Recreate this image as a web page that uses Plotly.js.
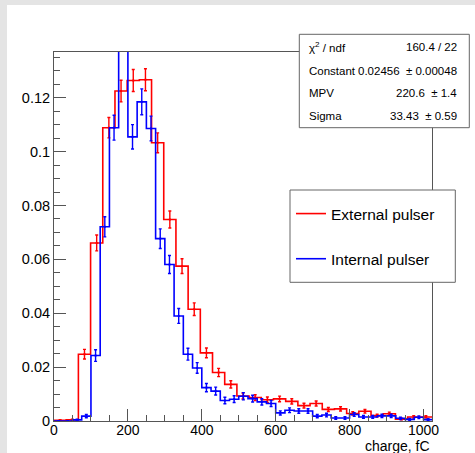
<!DOCTYPE html>
<html><head><meta charset="utf-8">
<script src="https://cdn.plot.ly/plotly-3.0.1.min.js"></script>
<style>
html,body{margin:0;padding:0;background:#e4e4e4;width:475px;height:453px;overflow:hidden}
#chart{position:absolute;left:7px;top:5px;width:468px;height:448px;background:#fff}
</style></head><body><div id="chart"></div>
<script>
// ---- data ----
const seriesNames = ['External pulser', 'Internal pulser'];
const redBinWidth = 33;   // fC per bin, external pulser histogram
const redValues = [0.0003, 0.0004, 0.0248, 0.0661, 0.1089, 0.1225, 0.1264, 0.1267, 0.1033, 0.0748,
  0.0575, 0.0415, 0.0253, 0.0180, 0.0136, 0.0093, 0.0087, 0.0079, 0.0082, 0.0073,
  0.0057, 0.0065, 0.0043, 0.0045, 0.0028, 0.0036, 0.0020, 0.0027, 0.0007, 0.0015, 0.0015];
const redErrors = [0.0002, 0.00023, 0.0018, 0.00295, 0.00379, 0.00401, 0.00408, 0.00408, 0.00369, 0.00314,
  0.00275, 0.00234, 0.00182, 0.00154, 0.00134, 0.00111, 0.00107, 0.00102, 0.00104, 0.00098,
  0.00087, 0.00092, 0.00075, 0.00077, 0.00061, 0.00069, 0.00051, 0.0006, 0.0003, 0.00044, 0.00044];
const blueBinWidth = 25;  // fC per bin, internal pulser histogram
const blueValues = [0, 0, 0.0004, 0.0018, 0.0243, 0.0721, 0.1089, 0.148, 0.1055, 0.1185,
  0.1086, 0.0677, 0.0581, 0.0390, 0.0248, 0.0197, 0.0124, 0.0111, 0.0076, 0.0081,
  0.0092, 0.0083, 0.0071, 0.0065, 0.0030, 0.0040, 0.0037, 0.0037, 0.0018, 0.0022,
  0.0011, 0.0011, 0.0024, 0.0015, 0.0015, 0.0019, 0.0019, 0.0010, 0.0006, 0.0014, 0.0005];
const blueErrors = [0, 0, 0.00028, 0.00059, 0.00217, 0.00374, 0.0046, 0.00536, 0.00453, 0.0048,
  0.00459, 0.00363, 0.00336, 0.00275, 0.00219, 0.00196, 0.00155, 0.00147, 0.00122, 0.00125,
  0.00134, 0.00127, 0.00117, 0.00112, 0.00076, 0.00088, 0.00085, 0.00085, 0.00059, 0.00065,
  0.00046, 0.00046, 0.00068, 0.00054, 0.00054, 0.00061, 0.00061, 0.00044, 0.00034, 0.00052, 0.00031];
const xTickVals = [0, 200, 400, 600, 800, 1000];
const yTickVals = [0, 0.02, 0.04, 0.06, 0.08, 0.1, 0.12];
const xTitle = 'charge, fC';
const statLabels = ['χ<sup>2</sup> / ndf', 'Constant', 'MPV', 'Sigma'];
const statValues = ['160.4 / 22', '0.02456  ± 0.00048', '220.6  ± 1.4', '33.43  ± 0.59'];

// ---- build traces ----
const FONT = '"Liberation Sans", Arial, Helvetica, sans-serif';
function stepTrace(vals, w, color, name, group) {
  const x = [], y = [];
  for (let i = 0; i <= vals.length; i++) { x.push(i * w); y.push(vals[Math.min(i, vals.length - 1)]); }
  return {x, y, type: 'scatter', mode: 'lines', line: {shape: 'hv', color, width: 1.6},
          name, legendgroup: group, showlegend: true, hoverinfo: 'skip'};
}
function errTrace(vals, errs, w, color, group) {
  const x = vals.map((_, i) => (i + 0.5) * w);
  return {x, y: vals, type: 'scatter', mode: 'markers', marker: {size: 2, color, symbol: 'square'},
          error_y: {type: 'data', array: errs, visible: true, color, thickness: 1.4, width: 1.5},
          showlegend: false, legendgroup: group, hoverinfo: 'skip'};
}
const data = [
  stepTrace(redValues, redBinWidth, '#ff0000', seriesNames[0], 'ext'),
  errTrace(redValues, redErrors, redBinWidth, '#ff0000', 'ext'),
  stepTrace(blueValues, blueBinWidth, '#0000ff', seriesNames[1], 'int'),
  errTrace(blueValues, blueErrors, blueBinWidth, '#0000ff', 'int')
];

// plot area in page px: left 54, right 432, top 52, bottom 421
const PX = p => (p - 54) / 378, PY = p => (421 - p) / 369;
const frame = '#555';
const annotations = [{
  text: xTitle, xref: 'paper', yref: 'paper', x: 1, y: PY(445.5), xanchor: 'right', yanchor: 'middle',
  showarrow: false, font: {size: 14, family: FONT, color: '#000'}
}];
const rowsY = [46.7, 70.7, 93.3, 116];
statLabels.forEach((t, i) => {
  annotations.push({text: t, xref: 'paper', yref: 'paper', x: PX(307), y: PY(rowsY[i]), xanchor: 'left', yanchor: 'middle',
    showarrow: false, font: {size: 11.5, family: FONT, color: '#000'}});
  annotations.push({text: statValues[i], xref: 'paper', yref: 'paper', x: PX(459), y: PY(rowsY[i]), xanchor: 'right', yanchor: 'middle',
    showarrow: false, font: {size: 11.5, family: FONT, color: '#000'}});
});

const axisCommon = {
  ticks: 'inside', ticklen: 12, tickwidth: 1, tickcolor: frame,
  showline: true, mirror: true, linecolor: frame, linewidth: 1,
  showgrid: false, zeroline: false, tickfont: {size: 14.5, family: FONT, color: '#000'}
};
const layout = {
  width: 468, height: 448,
  margin: {l: 47, r: 43, t: 47, b: 32},
  paper_bgcolor: '#fff', plot_bgcolor: '#fff',
  font: {family: FONT, color: '#000', size: 14.5},
  showlegend: true,
  xaxis: Object.assign({}, axisCommon, {range: [0, 1023], tickmode: 'array', tickvals: xTickVals, ticklabelstandoff: -4,
    tickfont: {size: 14, family: FONT, color: '#000'},
    minor: {ticks: 'inside', ticklen: 6, dtick: 50, tick0: 0, tickcolor: frame, tickwidth: 1, showgrid: false}}),
  yaxis: Object.assign({}, axisCommon, {range: [0, 0.137], tickmode: 'array', tickvals: yTickVals,
    minor: {ticks: 'inside', ticklen: 6, dtick: 0.005, tick0: 0, tickcolor: frame, tickwidth: 1, showgrid: false}}),
  legend: {x: PX(291), y: PY(197), xanchor: 'left', yanchor: 'top', bgcolor: 'rgba(0,0,0,0)', borderwidth: 0,
    font: {size: 15.5, family: FONT, color: '#000'}, traceorder: 'grouped', tracegroupgap: 22},
  shapes: [
    {type: 'rect', xref: 'paper', yref: 'paper', x0: PX(290), x1: PX(455.3), y0: PY(282.3), y1: PY(190),
     fillcolor: '#fff', line: {color: '#666', width: 1}, layer: 'above'},
    {type: 'rect', xref: 'paper', yref: 'paper', x0: PX(299.3), x1: PX(469.3), y0: PY(127.7), y1: PY(34.3),
     fillcolor: '#fff', line: {color: '#666', width: 1}, layer: 'above'}
  ],
  annotations
};
Plotly.newPlot('chart', data, layout, {staticPlot: true, displayModeBar: false});
</script></body></html>
